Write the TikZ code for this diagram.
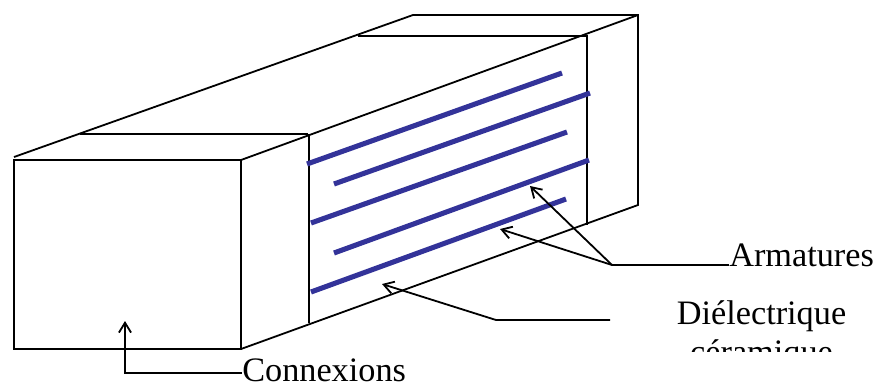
\documentclass[tikz,border=0pt]{standalone}
\usepackage{fontspec}
\setmainfont{Liberation Serif}
\usepackage{xcolor}
\usetikzlibrary{arrows.meta,positioning}
\definecolor{armBlue}{RGB}{51,51,153}
\begin{document}
\begin{tikzpicture}[
  x=0.75pt,y=-0.75pt,
  every node/.style={font=\fontsize{25.7}{29}\selectfont,inner sep=0pt,text=black},
  edge/.style={draw=black,line width=1.35pt},
  plate/.style={draw=armBlue,line width=3.8pt},
  arrow/.style={-{Straight Barb[length=2.6mm,width=3.2mm]},line width=1.35pt,draw=black},
  label/.style={anchor=base west}
]
  \useasboundingbox (0,0) rectangle (877,383);

  % boitier
  \draw[edge] (14,160) rectangle (241,349);
  \draw[edge] (14,157) -- (413,15) -- (638,15) -- (638,205) -- (241,349);
  \draw[edge] (80,134) -- (308,134);
  \draw[edge] (358,36) -- (587,36);
  \draw[edge] (241,160) -- (638,15);
  \draw[edge] (309,134) -- (309,323);
  \draw[edge] (587,35) -- (587,225);

  % armatures
  \draw[plate] (307,164) -- (562,73);
  \draw[plate] (334,184) -- (590,93);
  \draw[plate] (311,223) -- (567,132);
  \draw[plate] (334,253) -- (589,160);
  \draw[plate] (311,292) -- (566,199);

  % textes
  \node[label] (conn) at (242,381) {Connexions};
  \node[label] (arm) at (729,266) {Armatures};
  \begin{scope}
    \clip (640,290) rectangle (877,351);
    \node[anchor=base] (diel) at (761.5,324) {Diélectrique};
    \node[anchor=base] (cera) at (761.5,363) {céramique};
  \end{scope}

  % fleches
  \coordinate (armKnee) at (612,265);
  \coordinate (armHigh) at (530,186);
  \coordinate (armLow) at (500,229);
  \coordinate (dielEnd) at (610,320);
  \coordinate (dielKnee) at (496,320);
  \coordinate (dielTip) at (382,284);
  \coordinate (connKnee) at (125,373);
  \coordinate (connTip) at (125,321);

  \draw[edge] (arm.base west) ++(0,-1) -- (armKnee);
  \draw[arrow] (armKnee) -- (armHigh);
  \draw[arrow] (armKnee) -- (armLow);
  \draw[arrow] (dielEnd) -- (dielKnee) -- (dielTip);
  \draw[arrow] (conn.base west) ++(0,-8) -- (connKnee) -- (connTip);
\end{tikzpicture}
\end{document}
